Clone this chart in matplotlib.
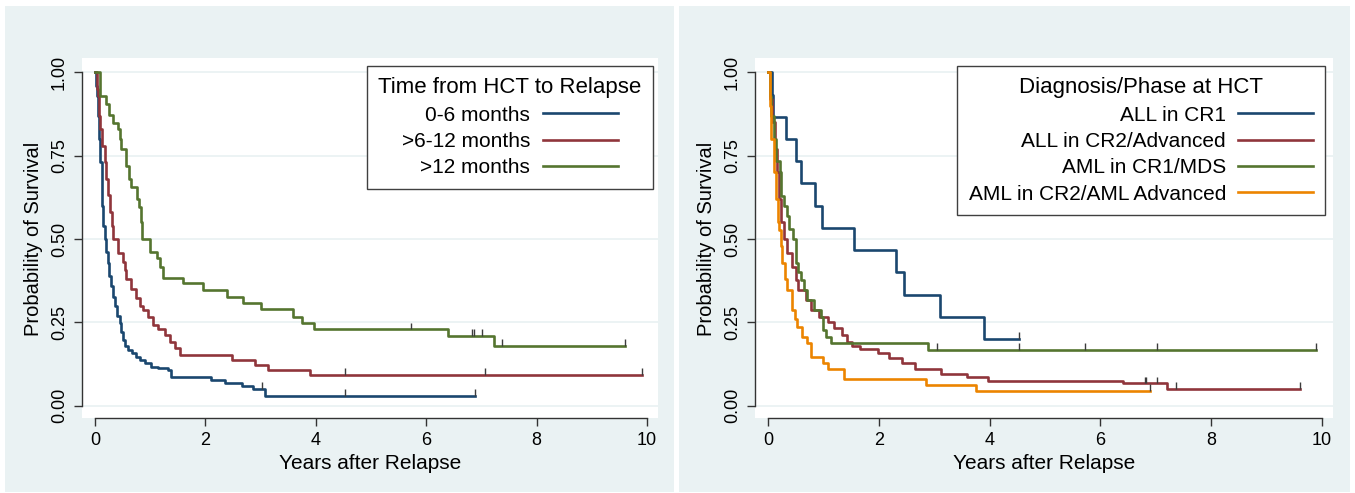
import numpy as np
import matplotlib.pyplot as plt
from matplotlib.patches import Rectangle

plt.rcParams['font.family'] = ['Liberation Sans', 'DejaVu Sans']

BG = '#eaf2f3'
NAVY = '#1a476f'
MAROON = '#90353b'
GREEN = '#55752f'
ORANGE = '#ec8400'

# ---- left panel: time from HCT to relapse ----
t_0_6 = [0, 0.02, 0.04, 0.06, 0.08, 0.10, 0.12, 0.135, 0.15, 0.175, 0.20, 0.235, 0.26, 0.29,
         0.326, 0.36, 0.40, 0.45, 0.48, 0.51, 0.55, 0.60, 0.67, 0.74, 0.82, 0.90, 1.02, 1.15,
         1.32, 1.38, 2.11, 2.36, 2.66, 2.87, 3.08, 6.89]
s_0_6 = [1.0, 0.96, 0.93, 0.87, 0.80, 0.73, 0.67, 0.60, 0.54, 0.50, 0.46, 0.427, 0.39, 0.36,
         0.327, 0.30, 0.27, 0.247, 0.22, 0.197, 0.18, 0.167, 0.157, 0.147, 0.137, 0.127, 0.117, 0.112,
         0.107, 0.087, 0.077, 0.069, 0.06, 0.05, 0.03, 0.03]
c_0_6 = [3.03, 4.53, 6.89]

t_6_12 = [0, 0.03, 0.05, 0.08, 0.10, 0.13, 0.175, 0.20, 0.235, 0.27, 0.30, 0.33, 0.42, 0.50,
          0.55, 0.57, 0.65, 0.74, 0.82, 0.87, 0.96, 1.05, 1.15, 1.27, 1.36, 1.45, 1.54, 2.48,
          2.90, 3.14, 3.90, 9.91]
s_6_12 = [1.0, 0.95, 0.93, 0.87, 0.83, 0.78, 0.73, 0.68, 0.632, 0.582, 0.54, 0.50, 0.458, 0.43,
          0.407, 0.38, 0.35, 0.323, 0.30, 0.287, 0.267, 0.242, 0.229, 0.212, 0.192, 0.172, 0.152, 0.137,
          0.122, 0.107, 0.092, 0.092]
c_6_12 = [4.53, 7.06, 9.91]

t_12 = [0, 0.085, 0.205, 0.25, 0.33, 0.41, 0.46, 0.47, 0.57, 0.62, 0.66, 0.77, 0.80, 0.83,
        0.85, 1.00, 1.13, 1.18, 1.24, 1.59, 1.96, 2.39, 2.69, 3.00, 3.59, 3.75, 3.97, 6.40,
        7.22, 9.61]
s_12 = [1.0, 0.928, 0.906, 0.871, 0.848, 0.83, 0.80, 0.771, 0.72, 0.68, 0.656, 0.62, 0.596, 0.55,
        0.501, 0.462, 0.443, 0.417, 0.384, 0.367, 0.347, 0.327, 0.307, 0.289, 0.267, 0.249, 0.229, 0.209,
        0.179, 0.179]
c_12 = [5.72, 6.83, 6.86, 7.01, 7.37, 9.61]

# ---- right panel: diagnosis / phase at HCT ----
t_all1 = [0, 0.08, 0.098, 0.32, 0.50, 0.59, 0.845, 0.98, 1.545, 2.31, 2.45, 3.11, 3.90, 4.53]
s_all1 = [1.0, 0.933, 0.867, 0.80, 0.733, 0.667, 0.60, 0.533, 0.467, 0.40, 0.333, 0.267, 0.20, 0.20]
c_all1 = [4.53]

t_all2 = [0, 0.04, 0.08, 0.12, 0.16, 0.20, 0.24, 0.29, 0.34, 0.43, 0.50, 0.55, 0.68, 0.77,
          0.92, 1.08, 1.20, 1.33, 1.43, 1.52, 1.66, 1.99, 2.18, 2.42, 2.66, 3.12, 3.60, 3.98,
          6.40, 7.21, 9.61]
s_all2 = [1.0, 0.92, 0.85, 0.77, 0.70, 0.62, 0.55, 0.50, 0.457, 0.417, 0.377, 0.347, 0.317, 0.287,
          0.267, 0.252, 0.232, 0.212, 0.192, 0.179, 0.169, 0.157, 0.142, 0.127, 0.11, 0.095, 0.087, 0.075,
          0.067, 0.05, 0.05]
c_all2 = [6.80, 6.83, 7.03, 7.36, 9.61]

t_aml1 = [0, 0.03, 0.06, 0.10, 0.14, 0.22, 0.24, 0.29, 0.34, 0.38, 0.45, 0.50, 0.55, 0.59,
          0.65, 0.71, 0.83, 0.95, 1.00, 1.04, 1.13, 2.895, 9.89]
s_aml1 = [1.0, 0.93, 0.87, 0.80, 0.733, 0.70, 0.63, 0.60, 0.57, 0.53, 0.50, 0.427, 0.40, 0.377,
          0.347, 0.317, 0.287, 0.267, 0.227, 0.207, 0.187, 0.167, 0.167]
c_aml1 = [3.05, 4.53, 5.72, 7.03, 9.89]

t_aml2 = [0, 0.03, 0.06, 0.10, 0.14, 0.18, 0.20, 0.24, 0.26, 0.30, 0.35, 0.44, 0.48, 0.53,
          0.62, 0.70, 0.77, 1.00, 1.08, 1.37, 2.85, 3.76, 6.89]
s_aml2 = [1.0, 0.90, 0.80, 0.70, 0.62, 0.55, 0.527, 0.48, 0.427, 0.38, 0.347, 0.287, 0.26, 0.237,
          0.207, 0.187, 0.147, 0.127, 0.11, 0.08, 0.062, 0.045, 0.045]
c_aml2 = [6.89]

left_series = [
    ('0-6 months', t_0_6, s_0_6, c_0_6, NAVY),
    ('>6-12 months', t_6_12, s_6_12, c_6_12, MAROON),
    ('>12 months', t_12, s_12, c_12, GREEN),
]
right_series = [
    ('ALL in CR1', t_all1, s_all1, c_all1, NAVY),
    ('ALL in CR2/Advanced', t_all2, s_all2, c_all2, MAROON),
    ('AML in CR1/MDS', t_aml1, s_aml1, c_aml1, GREEN),
    ('AML in CR2/AML Advanced', t_aml2, s_aml2, c_aml2, ORANGE),
]


def km_panel(ax, series, title, anchor):
    for name, t, s, cens, color in series:
        ax.step(t, s, where='post', color=color, lw=1.9, label=name)
        idx = np.searchsorted(t, cens, side='right') - 1
        cy = np.array(s)[idx]
        ax.vlines(cens, cy, cy + 0.02, color='#3c3c3c', lw=1.0)
    ax.set_xlim(-0.235, 10.2)
    ax.set_ylim(-0.037, 1.043)
    ax.set_facecolor('white')
    ax.set_xticks([0, 2, 4, 6, 8, 10])
    ax.set_yticks([0, 0.25, 0.5, 0.75, 1.0])
    ax.set_yticklabels(['0.00', '0.25', '0.50', '0.75', '1.00'], rotation=90, va='center')
    ax.yaxis.grid(True, color=BG, lw=1.3)
    ax.set_axisbelow(True)
    for side in ('top', 'right'):
        ax.spines[side].set_visible(False)
    ax.spines['left'].set_bounds(0, 1)
    ax.spines['bottom'].set_bounds(0, 10)
    for side in ('left', 'bottom'):
        ax.spines[side].set_color('#333333')
        ax.spines[side].set_linewidth(1.0)
    ax.tick_params(direction='out', length=6, width=1, color='#333333', labelsize=13, pad=4)
    ax.set_ylabel('Probability of Survival', fontsize=14.5)
    ax.yaxis.set_label_coords(-0.068, 0.497)
    ax.set_xlabel('Years after Relapse', fontsize=15)
    ax.xaxis.set_label_coords(0.5, -0.1)
    leg = ax.legend(title=title, loc='upper right', bbox_to_anchor=anchor, markerfirst=False,
                    fontsize=15, title_fontsize=16, handlelength=3.6, handletextpad=0.6,
                    labelspacing=0.35, borderpad=0.55, borderaxespad=0, fancybox=False,
                    framealpha=1, edgecolor='#404040')
    leg.get_frame().set_linewidth(1.0)


fig = plt.figure(figsize=(13.55, 4.93), dpi=100)
fig.patch.set_facecolor('white')
fig.add_artist(Rectangle((5 / 1355, 1 / 493), 669 / 1355, 486 / 493, transform=fig.transFigure,
                         facecolor=BG, edgecolor='none', zorder=-1))
fig.add_artist(Rectangle((679 / 1355, 1 / 493), 671 / 1355, 486 / 493, transform=fig.transFigure,
                         facecolor=BG, edgecolor='none', zorder=-1))

ax1 = fig.add_axes([82 / 1355, 75 / 493, 576 / 1355, 360 / 493])
ax2 = fig.add_axes([755 / 1355, 75 / 493, 578 / 1355, 360 / 493])

km_panel(ax1, left_series, 'Time from HCT to Relapse', (0.991, 0.978))
km_panel(ax2, right_series, 'Diagnosis/Phase at HCT', (0.986, 0.978))

fig.savefig('out.png', dpi=100, facecolor=fig.get_facecolor())
